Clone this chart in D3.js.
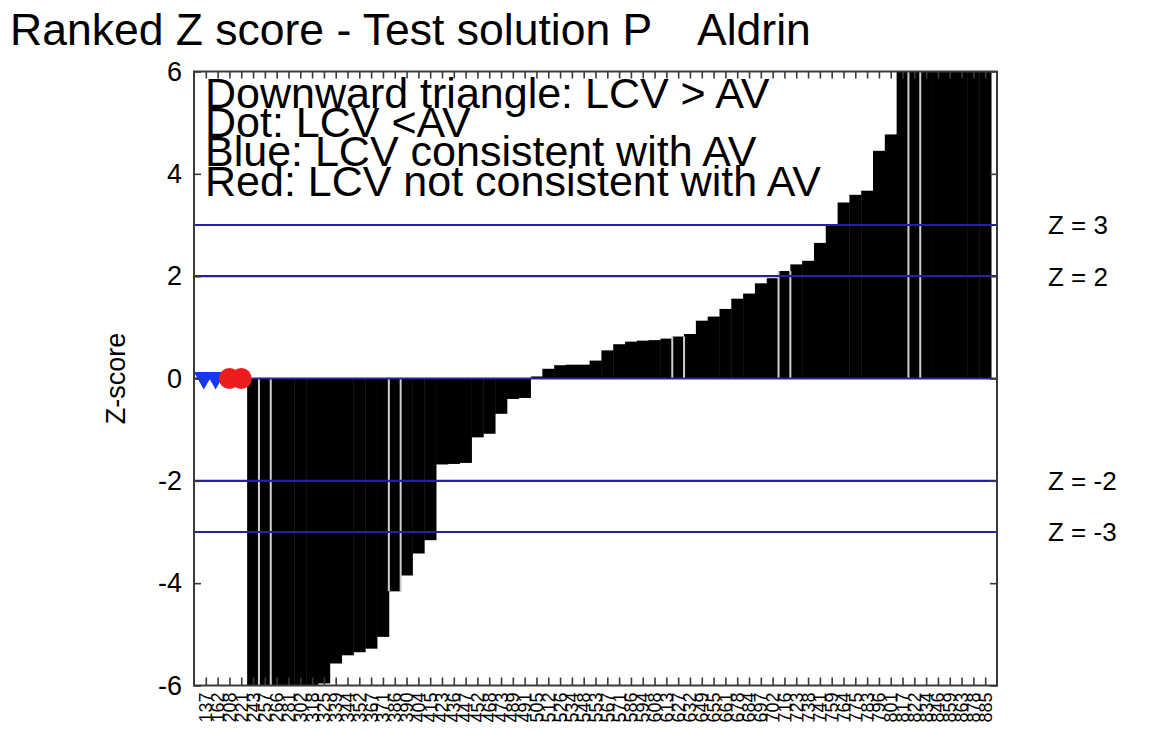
<!DOCTYPE html>
<html><head><meta charset="utf-8">
<script src="https://cdn.jsdelivr.net/npm/d3@7"></script>
<style>
body{margin:0;background:#fff}
svg{display:block}
text{font-family:"Liberation Sans",Arial,Helvetica,sans-serif;fill:#000}
</style>
</head><body>
<svg id="chart" width="1153" height="731"></svg>
<script>
// ---- data ----
const labs = ["137","162","208","221","243","257","266","281","302","318","325","339","344","352","367","371",
"386","390","404","415","423","436","447","452","468","473","489","491","505","512","526","534",
"548","553","567","571","586","594","608","613","627","632","649","655","661","678","684","697",
"702","716","723","738","741","759","764","775","783","796","801","817","822","834","846","859",
"863","878","885"];
// Z-scores in ranked order (null = no bar, shown as a marker at zero)
const zScores = [null,null,null,null,
 -14.0,-12.0,-10.0,-8.5,-7.2,-6.4,-5.96,-5.57,-5.41,-5.35,-5.28,-5.05,
 -4.16,-3.85,-3.42,-3.16,-1.68,-1.67,-1.65,-1.15,-1.08,-0.69,-0.40,-0.38,
 0.04,0.19,0.26,0.27,0.27,0.35,0.55,0.67,0.72,0.74,0.75,0.78,0.82,0.87,
 1.13,1.21,1.36,1.56,1.66,1.86,1.96,2.10,2.23,2.30,2.65,2.99,3.44,3.59,3.67,
 4.45,4.77,6.5,7.2,8.0,9.1,10.5,12.4,15.8,21.0];
// markers for the labs without a bar
const markerLabs   = ["137","162","208","221"];
const markerShapes = ["triangle","triangle","dot","dot"];
const markerGroups = ["consistent","consistent","notConsistent","notConsistent"];
// bars drawn with light edges / split lines
const edgedLabs = ["257","386","627","716","822"];
const splitBeforeLabs = ["505"];
const refLines  = [3,2,0,-2,-3];
const refLabelValues = [3,2,-2,-3];
const refLabels = ["Z = 3","Z = 2","Z = -2","Z = -3"];
const yTicks = [-6,-4,-2,0,2,4,6];
const titleMain = "Ranked Z score - Test solution P";
const titleAnalyte = "Aldrin";
const legendLines = ["Downward triangle: LCV > AV","Dot: LCV <AV","Blue: LCV consistent with AV","Red: LCV not consistent with AV"];
const yTitle = "Z-score";

// ---- layout ----
const L = 194, R = 997, T = 71.5, B = 685.5;
const svg = d3.select("#chart");

const x = d3.scaleLinear().domain([0, labs.length + 1]).range([L, R]);
const y = d3.scaleLinear().domain([-6, 6]).range([B, T]);
const bw = x(1) - x(0);
const pos = d => labs.indexOf(d) + 1;

svg.append("defs").append("clipPath").attr("id","plotclip")
  .append("rect").attr("x",L).attr("y",T).attr("width",R-L).attr("height",B-T);

const plot = svg.append("g").attr("clip-path","url(#plotclip)");

// bars
const barData = labs.map((l,i)=>({lab:l, z:zScores[i]})).filter(d=>d.z!==null);
plot.append("g").selectAll("rect").data(barData).join("rect")
  .attr("x", d => x(pos(d.lab) - 0.5))
  .attr("width", bw + 0.4)
  .attr("y", d => y(Math.max(0, d.z)))
  .attr("height", d => Math.abs(y(d.z) - y(0)))
  .attr("fill", "#000");

// light edges
const edgeLines = [];
edgedLabs.forEach(l => { edgeLines.push({lab:l, s:-0.5}); edgeLines.push({lab:l, s:0.5}); });
splitBeforeLabs.forEach(l => edgeLines.push({lab:l, s:-0.5}));
plot.append("g").selectAll("line").data(edgeLines).join("line")
  .attr("x1", d => x(pos(d.lab) + d.s)).attr("x2", d => x(pos(d.lab) + d.s))
  .attr("y1", d => y(Math.max(0, zScores[pos(d.lab)-1])))
  .attr("y2", d => y(Math.min(0, zScores[pos(d.lab)-1])))
  .attr("stroke", "#cfcfcf").attr("stroke-width", 2);

// reference lines
plot.append("g").selectAll("line").data(refLines).join("line")
  .attr("x1", L).attr("x2", R)
  .attr("y1", d => y(d)).attr("y2", d => y(d))
  .attr("stroke", "#23239e").attr("stroke-width", 2.2);

// markers
const colorOf = {consistent:"#1638f2", notConsistent:"#ee1c1c"};
const mk = svg.append("g");
const mData = markerLabs.map((l,i)=>({lab:l, shape:markerShapes[i], grp:markerGroups[i]}));
mk.selectAll("path.tri").data(mData.filter(d=>d.shape==="triangle")).join("path")
  .attr("class","tri")
  .attr("d", d => { const cx = x(pos(d.lab)) - 2, cy = y(0);
     return `M${cx-10},${cy-6.5}L${cx+10},${cy-6.5}L${cx},${cy+11}Z`; })
  .attr("fill", d => colorOf[d.grp]);
mk.selectAll("circle").data(mData.filter(d=>d.shape==="dot")).join("circle")
  .attr("cx", d => x(pos(d.lab))).attr("cy", y(0)).attr("r", 10.5)
  .attr("fill", d => colorOf[d.grp]);

// axes (inward ticks)
const frameColor = "#3a3a3a";
const ax = (g)=>{ g.select(".domain").remove(); g.selectAll(".tick line").attr("stroke",frameColor).attr("stroke-width",1.6); };
svg.append("g").attr("transform",`translate(${L},0)`)
  .call(d3.axisLeft(y).tickValues(yTicks).tickSize(-7).tickPadding(12).tickFormat(d => String(d)))
  .call(ax)
  .selectAll("text").attr("font-size",27).attr("font-family","Liberation Sans, Arial, sans-serif").attr("fill","#000");
svg.append("g").attr("transform",`translate(${R},0)`)
  .call(d3.axisRight(y).tickValues(yTicks).tickSize(-7).tickFormat(""))
  .call(ax);
const xt = d3.range(1, labs.length + 1);
svg.append("g").attr("transform",`translate(0,${B})`)
  .call(d3.axisBottom(x).tickValues(xt).tickSize(-8).tickFormat(""))
  .call(ax);
svg.append("g").attr("transform",`translate(0,${T})`)
  .call(d3.axisTop(x).tickValues(xt).tickSize(-7).tickFormat(""))
  .call(ax);

// frame
svg.append("rect").attr("x",L).attr("y",T).attr("width",R-L).attr("height",B-T)
  .attr("fill","none").attr("stroke",frameColor).attr("stroke-width",2);

// x labels (rotated, dense)
svg.append("g").selectAll("text").data(labs).join("text")
  .attr("transform", d => `translate(${x(pos(d))},${B+7}) rotate(-90)`)
  .attr("text-anchor","end").attr("dy","0.36em")
  .attr("font-size",18).text(d=>d);

// title
svg.append("text").attr("x",10).attr("y",45).attr("font-size",44.5).text(titleMain);
svg.append("text").attr("x",697).attr("y",45).attr("font-size",44.5).text(titleAnalyte);

// legend text
svg.append("g").selectAll("text").data(legendLines).join("text")
  .attr("x",205).attr("y",(d,i)=>108 + i*29.2).attr("font-size",43).text(d=>d);

// y title
svg.append("text").attr("transform",`translate(125,${y(0)}) rotate(-90)`)
  .attr("text-anchor","middle").attr("font-size",27).text(yTitle);

// right labels
svg.append("g").selectAll("text").data(refLabelValues).join("text")
  .attr("x",1048).attr("y",d=>y(d)).attr("dy","0.36em").attr("font-size",26)
  .text((d,i)=>refLabels[i]);
</script>
</body></html>
